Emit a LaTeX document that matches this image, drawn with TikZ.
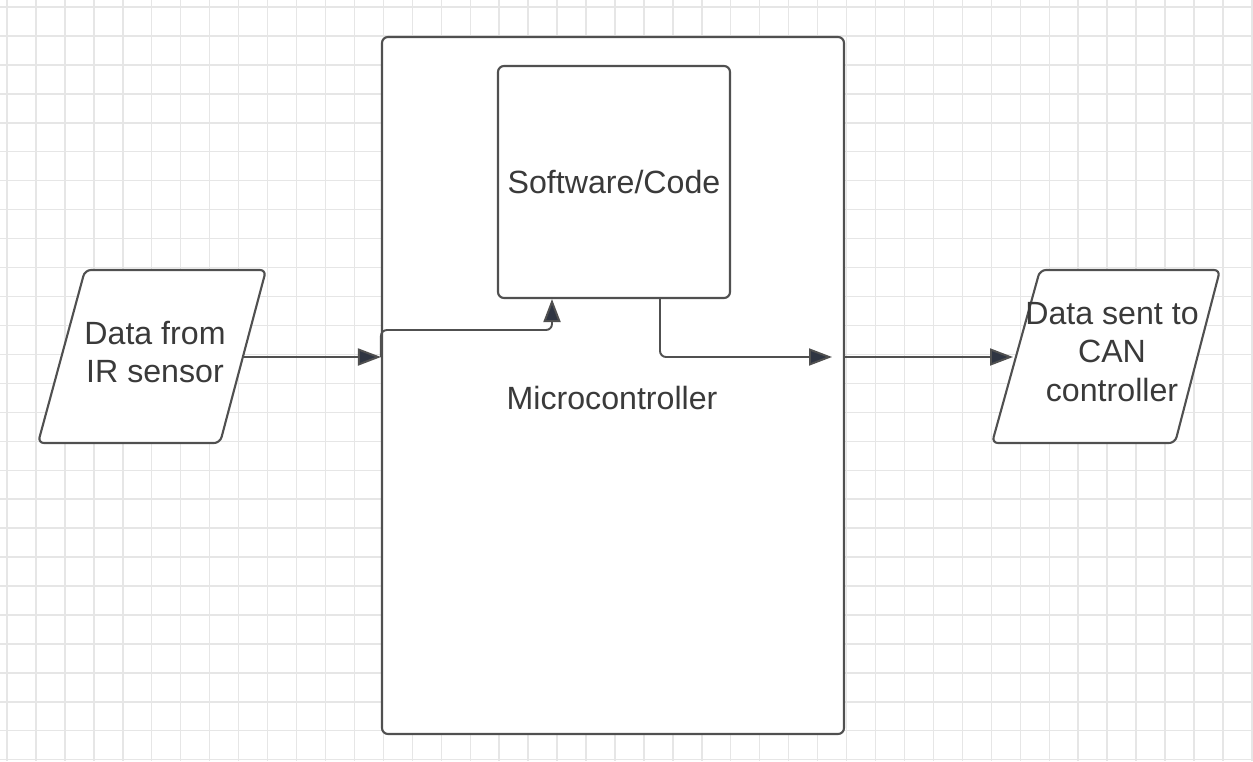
\documentclass[tikz,border=0pt]{standalone}
\usepackage{fontspec}
\setmainfont{Liberation Sans}
\usepackage{tikz}
\usetikzlibrary{arrows.meta, calc, positioning}
\definecolor{griglia}{HTML}{E6E6E6}
\definecolor{bordo}{HTML}{505050}
\definecolor{punta}{HTML}{2F3542}
\definecolor{testo}{HTML}{3A3A3A}
\newcommand{\px}{0.02cm}
\tikzset{
    blocco/.style = {draw = bordo, fill = white, line width = 1.2pt, rounded corners = 6*\px},
    dati/.style = {draw = bordo, fill = white, line width = 1.2pt, rounded corners = 6*\px},
    scritta/.style = {text = testo, align = center, font = \fontsize{18.3}{22}\selectfont},
    freccia/.style = {draw = bordo, line width = 1.1pt, rounded corners = 6*\px,
        -{Triangle[length = 23*\px, width = 17*\px, fill = punta]}}
}

\begin{document}
\begin{tikzpicture}[x = \px, y = -\px]
    % Parametri
    \pgfmathsetmacro{\passo}{28.95}
    \pgfmathsetmacro{\larg}{1253}
    \pgfmathsetmacro{\alt}{761}
    \useasboundingbox (0,0) rectangle (\larg,\alt);
    % Griglia
    \fill[white] (0,0) rectangle (\larg,\alt);
    \foreach \i in {0,...,43}
        \draw[griglia, line width = 0.8pt] ({7+\passo*\i},0) -- ({7+\passo*\i},\alt);
    \foreach \j in {0,...,26}
        \draw[griglia, line width = 0.8pt] (0,{7+\passo*\j}) -- (\larg,{7+\passo*\j});
    % Blocchi
    \node[blocco, minimum width = 462*\px, minimum height = 697*\px] (micro) at (613,385.5) {};
    \node[blocco, minimum width = 232*\px, minimum height = 232*\px] (sw) at (614,182) {};
    \node[scritta] (swtxt) at (sw.center) {Software/Code};
    \node[scritta] (microtxt) at (612,398) {Microcontroller};
    % Ingresso e uscita
    \draw[dati] (85,270) -- (266,270) -- (220,443) -- (38,443) -- cycle;
    \draw[dati] (1040,270) -- (1220,270) -- (1175,443) -- (992,443) -- cycle;
    \node[scritta] (ir) at (155,352) {Data from\\IR sensor};
    \node[scritta] (can) at (1112,352) {Data sent to\\CAN\\controller};
    \coordinate (irOut) at (243,357);
    \coordinate (canIn) at (1013,357);
    \coordinate (swIn) at ($(sw.south)+(-62,0)$);
    \coordinate (swOut) at ($(sw.south)+(46,0)$);
    \coordinate (microOut) at (832,357);
    % Frecce
    \draw[freccia] (irOut) -- (irOut -| micro.west);
    \draw[freccia] (irOut -| micro.west) -- ++(0,-27) -| (swIn);
    \draw[freccia] (swOut) |- (microOut);
    \draw[freccia] (canIn -| micro.east) -- (canIn);
\end{tikzpicture}
\end{document}
